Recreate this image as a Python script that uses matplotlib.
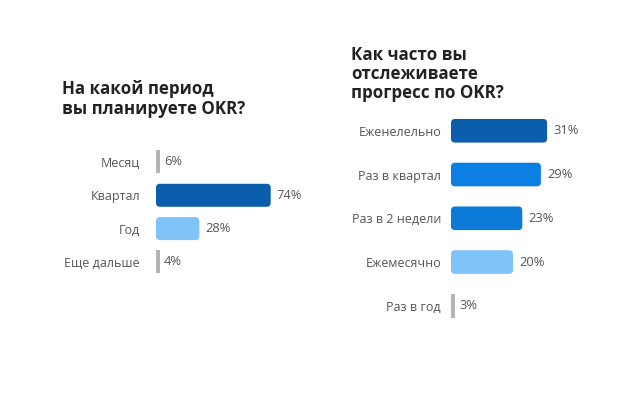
import matplotlib
matplotlib.use("Agg")
import matplotlib.pyplot as plt
from matplotlib.patches import FancyBboxPatch

plt.rcParams['font.family'] = ['Open Sans', 'DejaVu Sans']

# ---- data ----
left_title = ["На какой период", "вы планируете OKR?"]
left_cats = ["Месяц", "Квартал", "Год", "Еще дальше"]
left_vals = [6, 74, 28, 4]
left_colors = ["#b4b4b4", "#0a5eab", "#7fc3f9", "#b4b4b4"]

right_title = ["Как часто вы", "отслеживаете", "прогресс по OKR?"]
right_cats = ["Еженелельно", "Раз в квартал", "Раз в 2 недели", "Ежемесячно", "Раз в год"]
right_vals = [31, 29, 23, 20, 3]
right_colors = ["#0a5eab", "#0b80e2", "#0c7bd8", "#7fc3f9", "#b4b4b4"]

W, H = 640, 401
fig = plt.figure(figsize=(W / 100, H / 100), dpi=100)
fig.patch.set_facecolor("white")

TXT = "#555555"
TITLE = "#222222"


def make_panel(rect_px, xmax, cats, vals, colors, bar_h, label_pad_px, small_thr=10, thin_px=4):
    l, t, w, h = rect_px
    ax = fig.add_axes([l / W, 1 - (t + h) / H, w / W, h / H])
    n = len(cats)
    ax.set_xlim(0, xmax)
    ax.set_ylim(n - 0.5, -0.5)
    pxx = w / xmax
    pxy = h / n
    disp = [v if v >= small_thr else thin_px / pxx for v in vals]
    bars = ax.barh(range(n), disp, height=bar_h, color=colors)
    r_px = 4.0
    for p, v, c in zip(bars.patches, vals, colors):
        x, y = p.get_x(), p.get_y()
        bw, bh = p.get_width(), p.get_height()
        p.set_visible(False)
        if v >= small_thr:
            rs = r_px / pxx
            asp = (r_px / pxy) / rs
            fb = FancyBboxPatch((x, y), bw, bh,
                                boxstyle=f"round,pad=0,rounding_size={rs}",
                                mutation_aspect=asp, facecolor=c, edgecolor="none")
            ax.add_patch(fb)
        else:
            ax.add_patch(plt.Rectangle((x, y), bw, bh, facecolor=c, edgecolor="none"))
        off = (6 if v >= small_thr else 4) / pxx
        ax.text(bw + off, y + bh / 2, f"{v}%", va="center", ha="left",
                fontsize=9.3, color=TXT)
    ax.set_yticks(range(n))
    ax.set_yticklabels(cats, fontsize=9.0, color=TXT)
    ax.tick_params(axis="y", length=0, pad=label_pad_px * 0.72)
    ax.set_xticks([])
    for s in ax.spines.values():
        s.set_visible(False)
    ax.patch.set_alpha(0)
    return ax


# left panel: centers at 162..262 px, spacing 33.3
make_panel((156, 145.3, 155, 133.3), 100, left_cats, left_vals, left_colors,
           bar_h=0.69, label_pad_px=16)
# right panel: centers 130.8..305.8 px, spacing 43.75
make_panel((451, 108.9, 155, 218.75), 50, right_cats, right_vals, right_colors,
           bar_h=0.54, label_pad_px=10)

# titles
for i, line in enumerate(left_title):
    fig.text(62 / W, 1 - (94.5 + 19 * i) / H, line, fontsize=12.2, fontweight="bold",
             color=TITLE, va="baseline", ha="left")
for i, line in enumerate(right_title):
    fig.text(351 / W, 1 - (59.5 + 19.5 * i) / H, line, fontsize=12.2, fontweight="bold",
             color=TITLE, va="baseline", ha="left")

fig.savefig("out.png", dpi=100, facecolor="white")
